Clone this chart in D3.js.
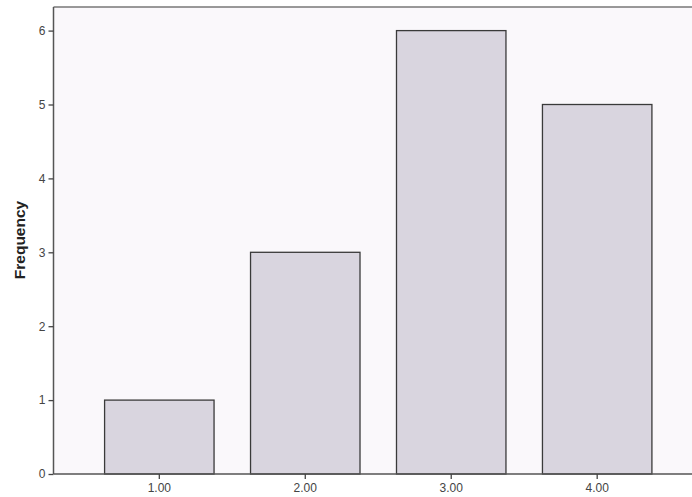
<!DOCTYPE html>
<html><head><meta charset="utf-8">
<script src="https://cdn.jsdelivr.net/npm/d3@7"></script>
<style>body{margin:0;background:#fff}svg{display:block}</style>
</head><body>
<svg id="c" width="692" height="497"></svg>
<script>
const categories = ["1.00","2.00","3.00","4.00"];
const frequencies = [1,3,6,5];
const yTicks = [0,1,2,3,4,5,6];
const yLabel = "Frequency";

(function(){
const svg = d3.select("#c");
const mLeft = 53.5, mTop = 7, mBottom = 474, mRight = 703;
const x = d3.scaleBand().domain(categories).range([mLeft, mRight]).paddingInner(0.25).paddingOuter(0.35);
const y = d3.scaleLinear().domain([0,6]).range([mBottom, mBottom - 6*73.9]);

svg.append("rect").attr("x",mLeft).attr("y",mTop).attr("width",692-mLeft).attr("height",mBottom-mTop).attr("fill","#faf8fb");

svg.selectAll("rect.bar").data(categories).enter().append("rect")
  .attr("class","bar")
  .attr("x",d=>x(d)).attr("width",x.bandwidth())
  .attr("y",(d,i)=>y(frequencies[i])).attr("height",(d,i)=>y(0)-y(frequencies[i]))
  .attr("fill","#d9d5df").attr("stroke","#3a3a3a").attr("stroke-width",1.3);

svg.append("line").attr("x1",mLeft).attr("x2",692).attr("y1",mTop).attr("y2",mTop).attr("stroke","#777").attr("stroke-width",1.5);

const ya = svg.append("g").attr("transform",`translate(${mLeft},0)`)
  .call(d3.axisLeft(y).tickValues(yTicks).tickFormat(d3.format("d")).tickSize(5).tickPadding(3));
ya.select(".domain").attr("d",`M0,${mTop}V${mBottom}`).attr("stroke","#555").attr("stroke-width",1.5);
ya.selectAll(".tick line").attr("stroke","#444").attr("stroke-width",1.3);
ya.selectAll("text").attr("font-family","Liberation Sans, Arial, sans-serif").attr("font-size",12).attr("fill","#444");

const xa = svg.append("g").attr("transform",`translate(0,${mBottom})`)
  .call(d3.axisBottom(x).tickSize(5).tickPadding(4));
xa.select(".domain").attr("d",`M${mLeft},0H692`).attr("stroke","#555").attr("stroke-width",1.5);
xa.selectAll(".tick line").attr("stroke","#444").attr("stroke-width",1.3);
xa.selectAll("text").attr("font-family","Liberation Sans, Arial, sans-serif").attr("font-size",12).attr("fill","#444");

svg.append("text").attr("transform",`translate(25,240) rotate(-90)`)
  .attr("text-anchor","middle").attr("font-family","Liberation Sans, Arial, sans-serif")
  .attr("font-weight","bold").attr("font-size",15.5).attr("fill","#222").text(yLabel);
})();
</script>
</body></html>
